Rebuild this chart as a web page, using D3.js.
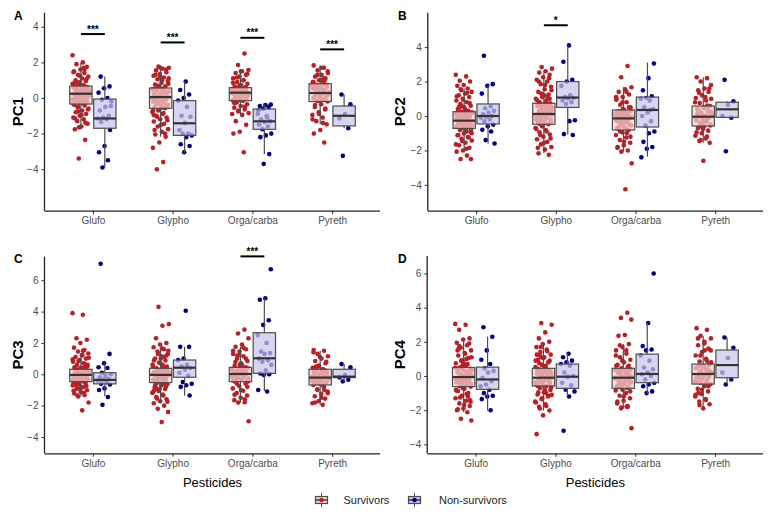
<!DOCTYPE html>
<html><head><meta charset="utf-8">
<script src="https://cdn.jsdelivr.net/npm/d3@7"></script>
<style>body{margin:0;background:#fff}svg{display:block;font-family:"Liberation Sans",Arial,sans-serif}</style>
</head><body><svg id="c" width="770" height="521"></svg>
<script>
const categories = ["Glufo", "Glypho", "Orga/carba", "Pyreth"];
const groups = ["Survivors", "Non-survivors"];
const panelNames = ["PC1", "PC2", "PC3", "PC4"];
const panelLetters = ["A", "B", "C", "D"];

// box stats per category: [lower whisker, q1, median, q3, upper whisker]
const boxSurvPC1 = [[-1.76,-0.34,0.24,0.67,2.0],[-2.17,-0.58,0.05,0.56,1.76],[-0.95,-0.15,0.3,0.58,1.57],[-1.48,-0.2,0.28,0.8,1.83]];
const boxNonPC1  = [[-3.9,-1.7,-1.15,-0.06,1.2],[-3.07,-2.1,-1.42,-0.15,0.92],[-3.16,-1.76,-1.31,-0.62,-0.37],[-1.7,-1.57,-1.0,-0.45,0.2]];
const boxSurvPC2 = [[-2.07,-0.72,-0.27,0.25,1.6],[-2.17,-0.48,0.12,0.74,2.52],[-2.07,-0.81,-0.14,0.35,1.67],[-1.55,-0.58,-0.04,0.58,2.25]];
const boxNonPC2  = [[-1.6,-0.46,0.0,0.7,1.8],[-1.07,0.5,1.07,2.0,4.13],[-2.36,-0.64,0.35,1.1,3.1],[-0.1,-0.08,0.39,0.8,0.85]];
const boxSurvPC3 = [[-1.42,-0.47,-0.04,0.32,1.33],[-1.85,-0.53,-0.04,0.38,1.72],[-1.78,-0.47,0.02,0.44,1.76],[-1.95,-0.68,-0.21,0.32,1.5]];
const boxNonPC3  = [[-1.4,-0.61,-0.36,0.1,0.7],[-1.36,-0.19,0.42,0.91,1.76],[-1.06,0.06,1.02,2.65,4.83],[-0.47,-0.21,-0.15,0.32,0.66]];
const boxSurvPC4 = [[-2.12,-0.62,-0.06,0.5,2.14],[-2.02,-0.58,-0.1,0.45,1.87],[-1.89,-0.72,-0.1,0.45,1.87],[-1.89,-0.47,0.12,0.7,2.35]];
const boxNonPC4  = [[-2.02,-0.78,-0.2,0.52,2.3],[-1.2,-0.72,-0.04,0.7,1.32],[-1.05,-0.39,0.12,1.28,3.1],[-0.49,-0.1,0.64,1.52,2.26]];

// individual points (survivors / non-survivors), per category
const ptsSurvPC1 = [
 [2.4,2.0,1.9,1.75,1.6,1.5,1.4,1.3,1.2,1.1,1.0,0.95,0.88,0.8,0.72,0.67,0.62,0.58,0.55,0.5,0.46,0.42,0.38,0.35,0.31,0.28,0.24,0.22,0.18,0.15,0.1,0.06,0.02,-0.03,-0.08,-0.13,-0.18,-0.23,-0.28,-0.34,-0.42,-0.5,-0.6,-0.7,-0.8,-0.9,-1.0,-1.1,-1.2,-1.3,-1.45,-1.6,-1.76,-2.35,-3.4,0.3,0.5,0.1,-0.05,0.7,
  0.6,0.45,0.35,0.25,0.15,0.05,-0.1,-0.2,-0.3,0.55,0.4,0.2,0.0,-0.15,0.65,0.3,0.12,-0.25,0.9,1.05,1.25,1.45,1.7,-0.5,-0.65,-0.95,-1.15,-1.4,-1.65,0.8,0.48,-0.12,0.33,0.08,-0.38,1.6,-0.75,0.52,0.18,-0.02],
 [1.76,1.7,1.65,1.55,1.45,1.35,1.25,1.15,1.05,0.95,0.85,0.75,0.65,0.56,0.5,0.44,0.38,0.32,0.26,0.2,0.15,0.1,0.05,0.0,-0.05,-0.1,-0.15,-0.2,-0.26,-0.32,-0.38,-0.44,-0.5,-0.58,-0.68,-0.78,-0.9,-1.0,-1.1,-1.2,-1.32,-1.45,-1.6,-1.75,-1.9,-2.05,-2.17,-2.5,-2.8,-3.6,-4.0,0.3,-0.3,0.1,0.6,-0.7,1.1,0.4,
  0.5,0.35,0.2,0.05,-0.1,-0.25,-0.4,-0.55,0.45,0.3,0.12,-0.02,-0.18,-0.35,-0.48,0.55,0.25,0.0,-0.3,0.8,1.0,1.3,1.6,1.72,-0.7,-0.85,-1.05,-1.25,-1.5,-1.8,-2.0,0.68,0.38,0.08,-0.12,-0.42,1.2,-0.95,0.15,-0.22],
 [2.5,1.85,1.57,1.5,1.4,1.3,1.2,1.1,1.0,0.9,0.8,0.72,0.65,0.58,0.54,0.5,0.46,0.42,0.38,0.34,0.3,0.26,0.22,0.18,0.13,0.08,0.03,-0.03,-0.1,-0.15,-0.25,-0.35,-0.45,-0.55,-0.65,-0.75,-0.85,-0.95,-1.3,-1.5,-1.9,-2.0,-3.05,0.4,0.2,0.5,
  0.55,0.45,0.35,0.25,0.15,0.05,-0.05,-0.12,0.5,0.4,0.3,0.2,0.1,0.0,0.6,0.7,0.85,1.0,1.15,1.35,1.5,-0.3,-0.5,-0.7,-0.9,0.32,0.42,0.28,0.36,-0.2],
 [1.83,1.7,1.55,1.4,1.3,1.2,1.1,1.0,0.9,0.8,0.74,0.68,0.6,0.52,0.45,0.38,0.32,0.28,0.22,0.15,0.08,0.0,-0.08,-0.15,-0.2,-0.35,-0.5,-0.65,-0.8,-0.95,-1.1,-1.3,-1.48,-1.8,-2.0,-2.5,0.5,0.2,1.0,0.6,
  0.75,0.65,0.55,0.45,0.35,0.25,0.15,0.05,-0.05,-0.15,0.7,0.5,0.3,0.1,-0.1,0.9,1.1,1.3,1.5,1.7,-0.4,-0.6,-0.9,-1.2,-1.4,0.4,0.62,0.18,-0.02,1.0]];
const ptsNonPC1 = [
 [1.2,0.65,0.55,0.3,0.0,-0.1,-0.45,-0.5,-0.7,-1.0,-1.1,-1.15,-1.2,-1.35,-1.8,-2.7,-3.05,-3.5,-3.9,-0.2],
 [0.92,0.45,0.2,0.0,-0.15,-0.5,-1.0,-1.05,-1.4,-1.8,-2.0,-2.0,-2.1,-2.2,-2.6,-2.7,-3.05],
 [-0.37,-0.4,-0.45,-0.5,-0.6,-0.9,-1.0,-1.2,-1.3,-1.35,-1.5,-1.6,-1.75,-2.0,-2.1,-2.2,-3.15,-3.7,-0.7,-1.1],
 [0.2,-0.35,-0.9,-1.15,-1.7,-3.25]];
const ptsSurvPC2 = [
 [2.4,2.3,2.05,2.0,1.8,1.75,1.6,1.5,1.4,1.3,1.2,1.1,1.0,0.9,0.8,0.7,0.6,0.5,0.4,0.3,0.25,0.18,0.1,0.04,-0.02,-0.08,-0.14,-0.2,-0.27,-0.32,-0.38,-0.44,-0.5,-0.56,-0.62,-0.72,-0.82,-0.92,-1.02,-1.12,-1.22,-1.32,-1.42,-1.55,-1.7,-1.85,-2.0,-2.07,-2.3,-2.5,-2.5,0.0,-0.4,-0.6,-0.1,0.2,-0.9,0.5,
  0.2,0.1,0.0,-0.1,-0.2,-0.3,-0.4,-0.5,-0.6,-0.7,0.15,-0.05,-0.25,-0.45,-0.65,0.22,-0.15,-0.35,-0.55,0.35,0.55,0.75,0.95,1.15,1.35,1.55,-0.8,-0.95,-1.1,-1.25,-1.45,-1.65,-1.9,-0.28,-0.48,0.05,-0.62,-0.18,0.6,-1.0],
 [2.85,2.75,2.6,2.52,2.4,2.25,2.1,2.0,1.85,1.7,1.55,1.4,1.25,1.1,1.0,0.9,0.8,0.74,0.66,0.58,0.5,0.42,0.35,0.28,0.2,0.12,0.06,0.0,-0.06,-0.12,-0.2,-0.28,-0.36,-0.48,-0.58,-0.7,-0.82,-0.95,-1.08,-1.2,-1.35,-1.5,-1.65,-1.8,-1.95,-2.17,-2.25,0.3,-0.2,0.6,0.15,-0.4,1.2,0.05,
  0.7,0.6,0.5,0.4,0.3,0.2,0.1,0.0,-0.1,-0.2,-0.3,-0.4,0.65,0.45,0.25,0.05,-0.15,-0.35,0.55,0.15,0.9,1.1,1.3,1.5,1.8,2.0,2.2,-0.6,-0.75,-0.9,-1.1,-1.3,-1.55,-1.85,0.35,-0.05,0.08,0.72,-0.45,1.0],
 [2.9,2.25,1.67,1.55,1.4,1.25,1.1,0.95,0.8,0.65,0.5,0.35,0.28,0.2,0.12,0.05,-0.02,-0.1,-0.14,-0.2,-0.28,-0.36,-0.45,-0.55,-0.65,-0.75,-0.81,-0.95,-1.1,-1.25,-1.4,-1.55,-1.7,-1.85,-2.0,-2.07,-2.75,-4.25,0.0,-0.5,0.4,1.0,-1.0,-0.3,
  0.3,0.2,0.1,0.0,-0.1,-0.2,-0.3,-0.4,-0.5,-0.6,-0.7,-0.8,0.25,-0.05,-0.35,-0.65,0.5,0.8,1.1,1.4,-0.9,-1.2,-1.5,-1.8,-0.15,-0.45,0.15,-0.25],
 [2.25,2.2,2.0,1.8,1.6,1.5,1.4,1.2,1.05,0.9,0.75,0.58,0.5,0.4,0.3,0.2,0.1,0.02,-0.04,-0.1,-0.18,-0.26,-0.34,-0.42,-0.5,-0.58,-0.7,-0.85,-1.0,-1.15,-1.3,-1.45,-1.55,-2.6,0.0,0.6,-0.6,1.0,
  0.5,0.35,0.2,0.05,-0.1,-0.25,-0.4,-0.55,0.45,0.15,-0.15,-0.45,0.8,1.1,1.35,1.6,-0.75,-0.95,-1.2,-1.4,0.25,-0.3,0.0,0.55]];
const ptsNonPC2 = [
 [3.5,1.85,1.75,1.3,0.55,0.45,0.3,0.2,0.1,0.0,-0.05,-0.1,-0.2,-0.3,-0.5,-0.6,-0.8,-0.9,-1.4,-1.6],
 [4.1,3.15,2.1,2.0,1.75,1.2,1.1,1.05,1.0,0.9,0.8,0.7,-0.25,-0.3,-1.05,-1.1],
 [3.05,2.2,1.5,1.15,1.05,1.0,0.9,0.5,0.4,0.2,0.0,-0.3,-0.55,-0.9,-1.0,-1.5,-1.8,-1.9,-2.4,0.35],
 [2.1,0.85,0.65,0.0,-0.1,-2.05]];
const ptsSurvPC3 = [
 [3.9,3.8,2.3,2.2,2.0,1.7,1.55,1.45,1.33,1.2,1.1,1.0,0.9,0.8,0.7,0.6,0.5,0.42,0.32,0.26,0.2,0.14,0.08,0.02,-0.04,-0.1,-0.16,-0.22,-0.28,-0.34,-0.4,-0.47,-0.55,-0.63,-0.72,-0.82,-0.92,-1.02,-1.12,-1.22,-1.32,-1.42,-1.8,-2.3,0.0,-0.2,0.1,-0.6,0.4,-0.3,0.6,-0.1,0.05,-0.5,
  0.3,0.2,0.1,0.0,-0.1,-0.2,-0.3,-0.4,0.25,0.15,0.05,-0.05,-0.15,-0.25,-0.35,-0.45,0.28,-0.02,-0.32,0.45,0.65,0.85,1.05,1.25,-0.6,-0.75,-0.9,-1.05,-1.2,-1.35,0.12,-0.12,-0.38,0.38,-0.52,0.95,1.5,-0.7,0.02,-0.22],
 [4.3,3.2,3.1,2.3,2.0,1.9,1.72,1.6,1.45,1.3,1.15,1.0,0.88,0.75,0.62,0.5,0.38,0.3,0.22,0.15,0.08,0.02,-0.04,-0.1,-0.16,-0.22,-0.3,-0.38,-0.45,-0.53,-0.62,-0.72,-0.82,-0.94,-1.06,-1.18,-1.3,-1.45,-1.6,-1.72,-1.85,-2.0,-2.2,-2.4,-3.05,0.0,-0.3,0.2,0.5,-0.6,-0.1,0.1,1.0,-1.0,
  0.35,0.25,0.15,0.05,-0.05,-0.15,-0.25,-0.35,-0.45,0.3,0.1,-0.1,-0.3,-0.5,0.2,0.0,-0.2,-0.4,0.5,0.7,0.9,1.1,1.3,1.5,1.65,-0.65,-0.8,-0.95,-1.15,-1.35,-1.55,-1.75,0.28,-0.28,0.12,-0.48,-0.02,0.6,-0.9,1.2],
 [2.85,2.6,2.3,1.9,1.76,1.6,1.45,1.3,1.15,1.0,0.85,0.7,0.55,0.44,0.36,0.28,0.2,0.12,0.05,0.02,-0.04,-0.1,-0.18,-0.26,-0.34,-0.47,-0.6,-0.75,-0.9,-1.05,-1.2,-1.35,-1.5,-1.65,-1.78,-1.8,-3.0,0.1,-0.2,0.3,0.6,-0.4,0.0,1.2,
  0.4,0.3,0.2,0.1,0.0,-0.1,-0.2,-0.3,-0.4,0.35,0.15,-0.05,-0.25,-0.45,0.6,0.8,1.0,1.25,1.5,1.7,-0.6,-0.8,-1.0,-1.3,-1.6,0.25,-0.15,0.05,-0.35,0.42],
 [1.55,1.5,1.3,1.15,1.0,0.85,0.7,0.55,0.42,0.32,0.25,0.15,0.05,-0.05,-0.12,-0.21,-0.28,-0.36,-0.44,-0.52,-0.6,-0.68,-0.8,-0.95,-1.1,-1.25,-1.4,-1.55,-1.7,-1.85,-1.95,-0.3,0.0,-0.5,0.2,-1.0,0.5,-0.2,
  0.3,0.2,0.1,0.0,-0.1,-0.2,-0.3,-0.4,-0.5,-0.6,0.25,-0.05,-0.35,-0.65,0.5,0.8,1.1,1.4,-0.8,-1.0,-1.2,-1.5,-1.8,-0.15,-0.25,-0.45,0.15,-0.55]];
const ptsNonPC3 = [
 [7.05,1.3,0.7,0.45,0.4,0.1,0.0,-0.1,-0.2,-0.3,-0.35,-0.4,-0.5,-0.6,-0.65,-0.9,-1.0,-1.45,-1.95],
 [4.05,1.75,1.75,1.0,0.9,0.6,0.5,0.4,0.3,0.1,-0.1,-0.5,-0.6,-0.7,-0.8,-1.35],
 [6.7,4.85,4.75,3.45,3.15,2.5,2.0,1.45,1.35,1.3,1.0,0.9,0.8,0.6,0.25,0.05,0.0,-0.05,-1.0,-1.1],
 [0.65,0.45,-0.05,-0.2,-0.35,-0.45]];
const ptsSurvPC4 = [
 [3.05,3.0,2.7,2.2,2.14,1.95,1.8,1.65,1.5,1.35,1.2,1.05,0.9,0.75,0.62,0.5,0.42,0.34,0.26,0.18,0.1,0.02,-0.06,-0.14,-0.22,-0.3,-0.38,-0.46,-0.54,-0.62,-0.75,-0.88,-1.0,-1.15,-1.3,-1.45,-1.6,-1.75,-1.9,-2.0,-2.12,-2.5,-2.6,0.0,-0.3,0.3,0.6,-0.8,1.0,-0.1,0.2,-0.5,1.5,-1.2,
  0.45,0.35,0.25,0.15,0.05,-0.05,-0.15,-0.25,-0.35,-0.45,-0.55,0.4,0.2,0.0,-0.2,-0.4,-0.6,0.3,-0.1,-0.3,0.7,0.9,1.1,1.3,1.6,1.9,-0.7,-0.85,-1.05,-1.25,-1.5,-1.7,-1.95,0.1,-0.5,0.48,-0.2,1.75,-1.4,0.8],
 [3.1,3.0,2.55,2.2,2.0,1.87,1.7,1.55,1.4,1.25,1.1,0.95,0.8,0.65,0.52,0.45,0.38,0.3,0.22,0.14,0.06,-0.02,-0.1,-0.18,-0.26,-0.34,-0.42,-0.5,-0.58,-0.7,-0.82,-0.95,-1.08,-1.2,-1.35,-1.5,-1.65,-1.8,-2.02,-2.3,-3.4,0.0,-0.3,0.2,0.5,-0.6,-0.15,0.1,0.9,-1.0,1.2,-0.4,
  0.4,0.3,0.2,0.1,0.0,-0.1,-0.2,-0.3,-0.4,-0.5,0.35,0.15,-0.05,-0.25,-0.45,0.25,-0.15,-0.35,0.6,0.75,0.9,1.05,1.25,1.45,1.7,-0.65,-0.8,-0.95,-1.15,-1.3,-1.55,-1.75,-1.9,0.05,-0.55,0.42,-0.1,1.1,-1.1,0.3],
 [3.7,3.4,3.3,2.4,2.35,1.87,1.7,1.5,1.3,1.1,0.95,0.8,0.65,0.52,0.45,0.35,0.25,0.15,0.05,-0.03,-0.1,-0.18,-0.27,-0.36,-0.45,-0.55,-0.65,-0.72,-0.85,-1.0,-1.15,-1.3,-1.45,-1.6,-1.75,-1.89,-3.05,0.0,-0.3,0.3,-0.8,0.6,-1.8,-0.5,
  0.4,0.3,0.2,0.1,0.0,-0.1,-0.2,-0.3,-0.4,-0.5,-0.6,-0.7,0.25,-0.05,-0.35,-0.65,0.6,0.9,1.2,1.5,1.8,-0.9,-1.2,-1.5,-1.8,-1.85,-0.15,-0.45,0.35,-0.25],
 [2.8,2.7,2.35,2.2,2.0,1.8,1.6,1.4,1.2,1.0,0.85,0.7,0.6,0.5,0.4,0.3,0.2,0.12,0.05,-0.03,-0.12,-0.2,-0.3,-0.4,-0.47,-0.6,-0.75,-0.9,-1.05,-1.2,-1.35,-1.5,-1.65,-1.89,0.0,0.3,-0.2,0.8,1.5,-1.0,
  0.65,0.55,0.45,0.35,0.25,0.15,0.05,-0.05,-0.15,-0.25,-0.35,-0.45,0.6,0.3,0.0,-0.3,0.9,1.2,1.5,1.9,2.2,-0.6,-0.8,-1.1,-1.4,-1.7,0.2,0.5,-0.1,0.1]];
const ptsNonPC4 = [
 [2.85,2.3,1.5,0.95,0.7,0.45,0.3,0.2,-0.1,-0.3,-0.5,-0.6,-0.8,-1.0,-1.15,-1.2,-1.35,-2.0],
 [1.3,1.1,0.9,0.8,0.7,0.6,0.2,0.0,-0.05,-0.4,-0.55,-0.8,-0.9,-1.2,-3.2],
 [6.0,3.1,1.75,1.55,1.5,1.2,0.9,0.5,0.4,0.2,0.1,0.0,-0.2,-0.4,-0.5,-0.6,-0.9,-1.0],
 [2.25,1.65,1.05,0.2,-0.2,-0.5]];

const yTicksPC1 = [-4,-2,0,2,4];
const yTicksPC2 = [-4,-2,0,2,4];
const yTicksPC3 = [-4,-2,0,2,4,6];
const yTicksPC4 = [-4,-2,0,2,4,6];

// significance annotations: [panel index, category, y value, label]
const sigBars = [[0,"Glufo",3.59,"***"],[0,"Glypho",3.12,"***"],[0,"Orga/carba",3.38,"***"],[0,"Pyreth",2.73,"***"],
                 [1,"Glypho",5.27,"*"],[2,"Orga/carba",7.52,"***"]];

const panelData = [
 {box:[boxSurvPC1, boxNonPC1], pts:[ptsSurvPC1, ptsNonPC1], ticks:yTicksPC1},
 {box:[boxSurvPC2, boxNonPC2], pts:[ptsSurvPC2, ptsNonPC2], ticks:yTicksPC2},
 {box:[boxSurvPC3, boxNonPC3], pts:[ptsSurvPC3, ptsNonPC3], ticks:yTicksPC3},
 {box:[boxSurvPC4, boxNonPC4], pts:[ptsSurvPC4, ptsNonPC4], ticks:yTicksPC4}];

// layout
const layout = [
 {x0:45, x1:380, yTop:12.7, yBot:210.7, dom:[-6.33,4.79], lx:14, ly:19.5, tx:17},
 {x0:428.3, x1:763, yTop:12.7, yBot:210.7, dom:[-5.5,6.0], lx:398, ly:19.5, tx:399},
 {x0:45, x1:380, yTop:256.7, yBot:453.3, dom:[-5.04,7.5], lx:14, ly:262.7, tx:17},
 {x0:427.7, x1:763, yTop:256, yBot:453.3, dom:[-4.52,7.02], lx:398, ly:262.7, tx:399}];

const ptColor = ["#bd1e24", "#00008b"];
const boxFill = ["#f3d3d3", "#c6c6ea"];
const svg = d3.select("#c");
const golden = 0.6180339887;

layout.forEach((L, p) => {
  const D = panelData[p];
  const g = svg.append("g");
  const x = d3.scalePoint().domain(categories).range([L.x0, L.x1]).padding(0.6);
  const y = d3.scaleLinear().domain(L.dom).range([L.yBot, L.yTop]);
  const step = x.step();
  const off = [-step*0.15, step*0.15];
  const bw = step*0.28;

  // points (deterministic jitter)
  [0,1].forEach(gi => {
    categories.forEach((c, ci) => {
      const vals = D.pts[gi][ci];
      const jw = gi === 0 ? step*0.105 : step*0.09;
      g.selectAll(null).data(vals).enter().append("circle")
        .attr("cx", (d,i) => x(c) + off[gi] + (((i*golden + ci*0.37 + gi*0.21) % 1) - 0.5) * 2 * jw)
        .attr("cy", d => y(d))
        .attr("r", 2.3)
        .attr("fill", ptColor[gi]);
    });
  });

  // boxes
  [0,1].forEach(gi => {
    categories.forEach((c, ci) => {
      const [lw,q1,md,q3,uw] = D.box[gi][ci];
      const cx = x(c) + off[gi];
      g.append("line").attr("x1",cx).attr("x2",cx).attr("y1",y(q3)).attr("y2",y(uw)).attr("stroke","#4d4d4d").attr("stroke-width",1.2);
      g.append("line").attr("x1",cx).attr("x2",cx).attr("y1",y(q1)).attr("y2",y(lw)).attr("stroke","#4d4d4d").attr("stroke-width",1.2);
      g.append("rect").attr("x",cx-bw/2).attr("width",bw).attr("y",y(q3)).attr("height",y(q1)-y(q3))
        .attr("fill",boxFill[gi]).attr("fill-opacity",0.72).attr("stroke","#4d4d4d").attr("stroke-width",1.2);
      g.append("line").attr("x1",cx-bw/2).attr("x2",cx+bw/2).attr("y1",y(md)).attr("y2",y(md)).attr("stroke","#333").attr("stroke-width",2.2);
    });
  });

  // axes
  const ya = d3.axisLeft(y).tickValues(D.ticks).tickSize(3.5).tickPadding(3).tickFormat(d3.format("d"));
  const yg = g.append("g").attr("transform",`translate(${L.x0},0)`).call(ya);
  yg.select(".domain").attr("d",`M-0.5,${L.yTop}V${L.yBot}`);
  const xa = d3.axisBottom(x).tickSize(3.5).tickPadding(3);
  const xg = g.append("g").attr("transform",`translate(0,${L.yBot})`).call(xa);
  xg.select(".domain").attr("d",`M${L.x0-0.5},0.5H${L.x1}`);
  [yg, xg].forEach(a => {
    a.select(".domain").attr("stroke","#222").attr("stroke-width",1.3);
    a.selectAll(".tick line").attr("stroke","#333");
    a.selectAll("text").attr("fill","#4d4d4d").attr("font-size",10).attr("font-family",'"Liberation Sans",Arial,sans-serif');
  });

  // labels
  g.append("text").attr("x",L.lx).attr("y",L.ly).attr("font-size",12).attr("font-weight","bold").text(panelLetters[p]);
  g.append("text").attr("transform",`translate(${L.tx},${(L.yTop+L.yBot)/2}) rotate(-90)`)
    .attr("text-anchor","middle").attr("dominant-baseline","central")
    .attr("font-size",15).attr("font-weight","bold").text(panelNames[p]);
  if (p >= 2) {
    g.append("text").attr("x",(L.x0+L.x1)/2).attr("y",487).attr("text-anchor","middle").attr("font-size",13).text("Pesticides");
  }

  // significance
  sigBars.filter(s => s[0] === p).forEach(s => {
    const yy = y(s[2]);
    g.append("line").attr("x1",x(s[1])+off[0]).attr("x2",x(s[1])+off[1]).attr("y1",yy).attr("y2",yy).attr("stroke","#000").attr("stroke-width",2);
    g.append("text").attr("x",x(s[1])).attr("y",yy-1.5).attr("text-anchor","middle").attr("font-size",10).attr("font-weight","bold").text(s[3]);
  });
});

// legend
const legend = svg.append("g");
const legX = [315, 408], legT = [343.5, 439];
groups.forEach((gname, gi) => {
  const k = legend.append("g").attr("transform",`translate(${legX[gi]},493)`);
  k.append("line").attr("x1",6.5).attr("x2",6.5).attr("y1",0).attr("y2",14).attr("stroke","#4d4d4d").attr("stroke-width",1);
  k.append("rect").attr("x",0.5).attr("y",3.5).attr("width",12).attr("height",7).attr("fill",boxFill[gi]).attr("stroke","#4d4d4d").attr("stroke-width",1.2);
  k.append("line").attr("x1",0.5).attr("x2",12.5).attr("y1",7).attr("y2",7).attr("stroke","#333").attr("stroke-width",1.4);
  k.append("circle").attr("cx",6.5).attr("cy",7).attr("r",2.3).attr("fill",ptColor[gi]);
  legend.append("text").attr("x",legT[gi]).attr("y",504).attr("font-size",11).attr("fill","#222").text(gname);
});
</script></body></html>
